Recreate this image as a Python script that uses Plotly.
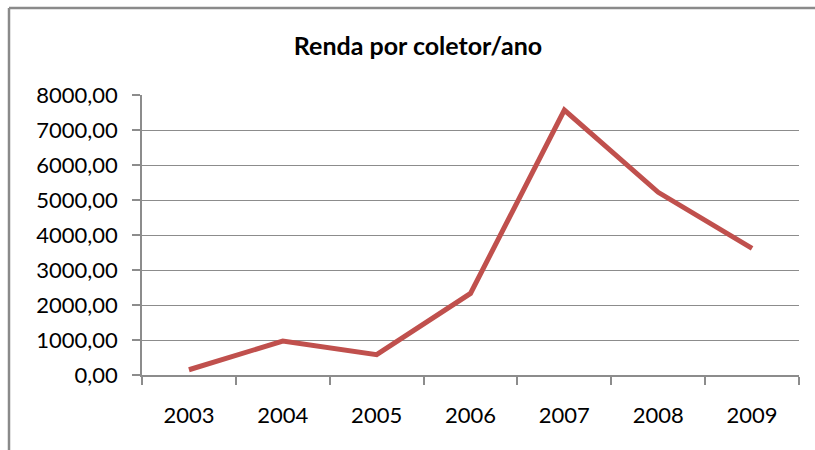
import plotly.graph_objects as go

years = ["2003", "2004", "2005", "2006", "2007", "2008", "2009"]
renda = [150, 970, 580, 2330, 7570, 5220, 3620]
y_ticks = [0, 1000, 2000, 3000, 4000, 5000, 6000, 7000, 8000]

FONT = "Lato"
GRID = "#8c8c8c"

fig = go.Figure()
fig.add_trace(go.Scatter(
    x=years, y=renda, mode="lines",
    line=dict(color="#C0504D", width=5),
    showlegend=False, hoverinfo="x+y",
))

# plot area: x 142..799, y 95..375 in an 815x450 page
L, R, T, B = 142, 16, 95, 75
W, H = 815 - L - R, 450 - T - B

def px(x):
    return (x - L) / W

def py(y):
    return (450 - B - y) / H

fig.update_layout(
    width=815, height=450,
    margin=dict(l=L, r=R, t=T, b=B),
    paper_bgcolor="white", plot_bgcolor="white",
    separators=", ",
    font=dict(family=FONT, size=22, color="#000000"),
    title=dict(
        text="<b>Renda por coletor/ano</b>",
        x=px(418), xref="paper", xanchor="center",
        y=1 - 46 / 450, yref="container", yanchor="middle",
        font=dict(family=FONT, size=25, color="#000000"),
    ),
    xaxis=dict(
        type="category", categoryorder="array", categoryarray=years,
        range=[-0.5, 6.5],
        showgrid=False, showline=True, linecolor=GRID, linewidth=1.5,
        ticks="outside", tickson="boundaries", ticklen=8, tickwidth=1.5,
        tickcolor=GRID, ticklabelstandoff=20,
        tickfont=dict(family=FONT, size=22, color="#000000"),
        fixedrange=True, zeroline=False,
    ),
    yaxis=dict(
        range=[0, 8000], tickvals=y_ticks, tickformat=".2f",
        showgrid=True, gridcolor=GRID, gridwidth=1.3,
        showline=True, linecolor=GRID, linewidth=1.5,
        ticks="outside", ticklen=8, tickwidth=1.5, tickcolor=GRID,
        ticklabelstandoff=10,
        tickfont=dict(family=FONT, size=22, color="#000000"),
        zeroline=False, fixedrange=True,
    ),
    shapes=[
        dict(type="line", xref="paper", yref="paper",
             x0=px(9), x1=px(815), y0=py(8), y1=py(8),
             line=dict(color="#8a8a8a", width=2.5)),
        dict(type="line", xref="paper", yref="paper",
             x0=px(9), x1=px(9), y0=py(8), y1=py(452),
             line=dict(color="#8a8a8a", width=2.5)),
    ],
)

fig.write_html("out.html", config={"displayModeBar": False},
               post_script="document.body.style.margin='0px';")
